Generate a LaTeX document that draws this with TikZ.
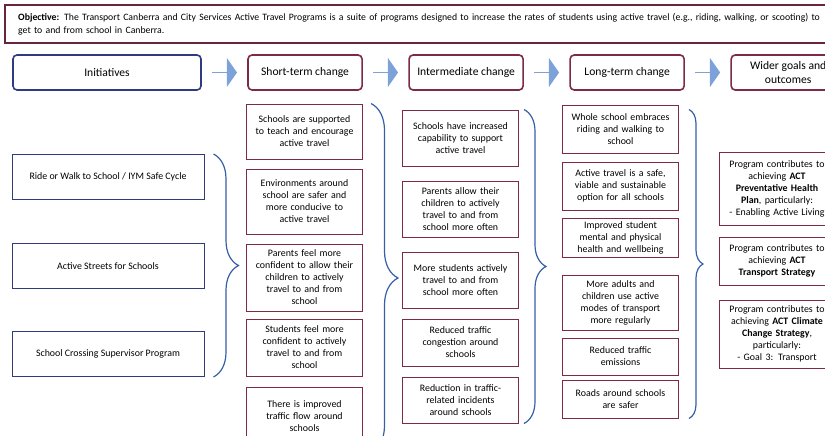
\documentclass[tikz,border=0pt]{standalone}
\usepackage{fontspec}
\setmainfont{Carlito}
\usetikzlibrary{shapes.arrows,chains,decorations.pathreplacing}

\definecolor{wine}{HTML}{7D2A48}
\definecolor{navy}{HTML}{2E3B7C}
\definecolor{bracecol}{HTML}{3660A6}
\definecolor{arrowblue}{HTML}{7DA2D9}

\begin{document}
\begin{tikzpicture}[%
    x=1pt, y=-1pt,              % page points, y running downwards
    start chain=going right,    % header row runs left-to-right
    node distance=10pt,         % gap between header boxes and arrows
    ]
% -------------------------------------------------
% Box styles
\tikzset{
  base/.style={draw=wine, line width=1pt, align=center, inner sep=2pt,
    font=\fontsize{9.9}{12}\selectfont},
  init/.style={base, draw=navy, minimum width=192pt, minimum height=45pt},
  col/.style={base, minimum width=115pt, text width=112pt},
  goal/.style={base, minimum width=114pt, text width=112pt},
  head/.style={draw=wine, line width=1.6pt, rounded corners=4pt, on chain,
    align=center, minimum width=114pt, minimum height=35pt,
    font=\fontsize{11.6}{13.5}\selectfont},
  flow/.style={single arrow, fill=arrowblue, draw=none, on chain,
    minimum width=29pt, minimum height=25pt, inner sep=0pt,
    single arrow head extend=6pt, single arrow tip angle=110},
  % braces gathering one column into the next
  curly/.style={decorate, decoration={brace, amplitude=#1},
    draw=bracecol, line width=1.2pt},
}
\useasboundingbox (0,0) rectangle (825,436);
\clip (0,0) rectangle (825,436);

% -------------------------------------------------
% Objective banner
\node [draw=wine!85!black, line width=2.4pt, anchor=north west,
  minimum height=38pt, text width=860pt, inner xsep=13pt, align=left,
  font=\fontsize{9.75}{13}\selectfont] (obj) at (4,4)
  {\textbf{Objective:} The Transport Canberra and City Services Active Travel Programs is a suite of programs designed to increase the rates of students using active travel (e.g., riding, walking, or scooting) to\\
   get to and from school in Canberra.};

% -------------------------------------------------
% Header row
\node [head, draw=navy, minimum width=188pt] (hinit) at (107,72.5) {Initiatives};
\node [flow] (a1) {};
\node [head] (hshort) {Short-term change};
\node [flow] (a2) {};
\node [head] (hmid) {Intermediate change};
\node [flow] (a3) {};
\node [head] (hlong) {Long-term change};
\node [flow] (a4) {};
\node [head] (hwide) {Wider goals and\\ outcomes};

% -------------------------------------------------
% Initiatives
\node [init] (i1) at (108,177) {Ride or Walk to School / IYM Safe Cycle};
\node [init] (i2) at (108,266) {Active Streets for Schools};
\node [init] (i3) at (108,354) {School Crossing Supervisor Program};

% Short-term change
\node [col, minimum height=55pt] (st1) at (304.5,131.5)
  {Schools are supported\\ to teach and encourage\\ active travel};
\node [col, minimum height=65pt] (st2) at (304.5,201.5)
  {Environments around\\ school are safer and\\ more conducive to\\ active travel};
\node [col, minimum height=67pt] (st3) at (304.5,277.5)
  {Parents feel more\\ confident to allow their\\ children to actively\\ travel to and from\\ school};
\node [col, minimum height=57pt] (st4) at (304.5,347.5)
  {Students feel more\\ confident to actively\\ travel to and from\\ school};
\node [col, minimum height=58pt] (st5) at (304.5,416)
  {There is improved\\ traffic flow around\\ schools};

% Intermediate change
\node [col, minimum height=56pt] (im1) at (460.5,138)
  {Schools have increased\\ capability to support\\ active travel};
\node [col, minimum height=56pt] (im2) at (460.5,209)
  {Parents allow their\\ children to actively\\ travel to and from\\ school more often};
\node [col, minimum height=56pt] (im3) at (460.5,280)
  {More students actively\\ travel to and from\\ school more often};
\node [col, minimum height=47pt] (im4) at (460.5,342.5)
  {Reduced traffic\\ congestion around\\ schools};
\node [col, minimum height=46pt] (im5) at (460.5,400)
  {Reduction in traffic-\\ related incidents\\ around schools};

% Long-term change
\node [col, minimum height=48pt] (lt1) at (620.5,129)
  {Whole school embraces\\ riding and walking to\\ school};
\node [col, minimum height=48pt] (lt2) at (620.5,186)
  {Active travel is a safe,\\ viable and sustainable\\ option for all schools};
\node [col, minimum height=39pt] (lt3) at (620.5,237.5)
  {Improved student\\ mental and physical\\ health and wellbeing};
\node [col, minimum height=55pt] (lt4) at (620.5,302.5)
  {More adults and\\ children use active\\ modes of transport\\ more regularly};
\node [col, minimum height=37pt] (lt5) at (620.5,356.5)
  {Reduced traffic\\ emissions};
\node [col, minimum height=38pt] (lt6) at (620.5,399)
  {Roads around schools\\ are safer};

% Wider goals
\node [goal, minimum height=73pt] (g1) at (777,188.5)
  {Program contributes to\\ achieving \textbf{ACT}\\ \textbf{Preventative Health}\\
   \textbf{Plan}, particularly:\\ - Enabling Active Living};
\node [goal, minimum height=48pt] (g2) at (777,261)
  {Program contributes to\\ achieving \textbf{ACT}\\ \textbf{Transport Strategy}};
\node [goal, minimum height=68pt] (g3) at (777,334)
  {Program contributes to\\ achieving \textbf{ACT Climate}\\ \textbf{Change Strategy},\\
   particularly:\\ - Goal 3: Transport};

% -------------------------------------------------
% Braces between the columns
\draw [curly=25pt] ([xshift=9pt]i1.north east) -- ([xshift=9pt]i3.south east);
\draw [curly=27pt] ([xshift=8pt]st1.north east) -- ([xshift=8pt,yshift=-7pt]st5.south east);
\draw [curly=22pt] ([xshift=5pt]im1.north east) -- ([xshift=5pt]im5.south east);
\draw [curly=14pt] ([shift={(10pt,-5pt)}]lt1.north east) -- ([xshift=10pt]lt6.south east);

% -------------------------------------------------
\end{tikzpicture}
\end{document}
